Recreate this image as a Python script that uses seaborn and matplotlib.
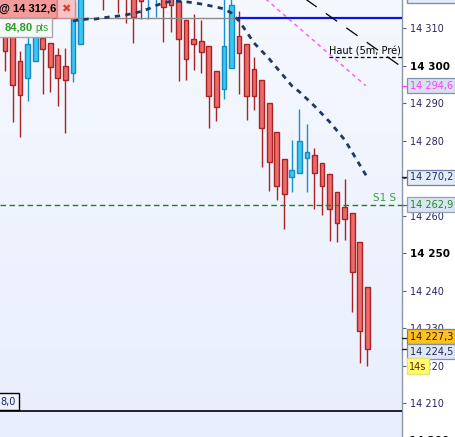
import numpy as np
import matplotlib
matplotlib.use('Agg')
import matplotlib.pyplot as plt
import seaborn as sns
from matplotlib.patches import Rectangle
import matplotlib.transforms as mtransforms

# 1-minute candles, oldest first
opens = [14309.5, 14309.5, 14301.2, 14296.7, 14301.2, 14307.4, 14306.0, 14302.8, 14299.9, 14298.0,
         14305.8, 14322.0, 14321.0, 14322.0, 14320.0, 14323.0, 14321.0, 14319.0, 14320.0, 14319.0,
         14318.5, 14320.0, 14319.0, 14317.2, 14312.2, 14307.1, 14306.6, 14305.2, 14298.6, 14293.8,
         14299.4, 14307.9, 14305.8, 14299.1, 14296.2, 14290.0, 14282.3, 14275.1, 14270.3, 14271.4,
         14275.4, 14276.2, 14274.0, 14271.1, 14266.3, 14262.3, 14260.7, 14253.0, 14241.0]
highs = [14310.8, 14311.0, 14303.9, 14309.5, 14310.8, 14309.5, 14306.0, 14304.7, 14304.7, 14318.8,
         14320.2, 14324.0, 14325.0, 14324.0, 14324.0, 14325.0, 14323.0, 14321.0, 14322.0, 14323.0,
         14323.0, 14322.0, 14321.0, 14318.0, 14312.2, 14313.8, 14312.2, 14305.2, 14298.6, 14320.0,
         14320.0, 14314.6, 14305.8, 14302.3, 14296.2, 14290.0, 14282.3, 14275.1, 14280.2, 14288.4,
         14284.4, 14278.0, 14274.0, 14271.1, 14266.3, 14269.8, 14260.7, 14253.0, 14241.0]
lows = [14298.6, 14285.0, 14281.0, 14290.6, 14301.2, 14292.4, 14293.0, 14289.2, 14282.0, 14295.6,
        14305.8, 14319.0, 14319.0, 14314.8, 14318.5, 14314.0, 14311.4, 14306.0, 14312.4, 14312.4,
        14313.0, 14306.3, 14309.0, 14295.9, 14296.2, 14298.8, 14298.0, 14283.4, 14285.2, 14291.1,
        14299.4, 14292.4, 14285.5, 14288.2, 14273.0, 14266.6, 14264.2, 14256.4, 14266.3, 14271.4,
        14266.3, 14261.8, 14260.2, 14253.2, 14253.0, 14253.5, 14234.3, 14220.7, 14219.9]
closes = [14303.9, 14294.8, 14292.2, 14305.8, 14309.5, 14304.4, 14299.6, 14296.7, 14296.2, 14317.0,
          14318.8, 14320.0, 14323.0, 14319.0, 14322.0, 14319.0, 14318.5, 14313.0, 14317.2, 14322.0,
          14321.0, 14315.6, 14316.2, 14307.1, 14301.8, 14305.8, 14303.6, 14291.9, 14289.0, 14305.2,
          14316.2, 14303.4, 14291.9, 14291.9, 14283.4, 14274.3, 14267.9, 14265.8, 14272.2, 14279.9,
          14277.0, 14271.4, 14267.9, 14261.8, 14258.0, 14259.1, 14245.0, 14229.2, 14224.5]

# moving average (starts at bar 9)
ma_first = 9
ma_vals = [14311.9, 14312.2, 14312.4, 14312.4, 14312.7, 14313.0, 14313.2, 14313.5, 14313.9, 14314.4,
           14315.1, 14316.0, 14316.7, 14317.1, 14317.1, 14317.0, 14316.7, 14316.4, 14316.0, 14315.6,
           14315.1, 14314.0, 14311.9, 14309.0, 14306.0, 14303.9, 14301.8, 14299.4, 14297.0, 14294.6,
           14293.0, 14291.1, 14289.2, 14287.1, 14285.0, 14282.6, 14280.2, 14276.9, 14273.5, 14270.2]

# trend lines (bar index, price)
trend_x = [38, 53]
trend_y = [14320.3, 14299.0]
pink_x = [34, 47.8]
pink_y = [14318.7, 14294.6]

order_level = 14312.6
order_pts = "84,80"
haut_level = 14302.3
s1_level = 14262.9
low_level = 14208.0
ma_last = 14270.2
pink_last = 14294.6
ask_price = 14227.3
last_price = 14224.5
tick_vals = [14210, 14220, 14230, 14240, 14250, 14260, 14270, 14280, 14290, 14300, 14310]

W, H = 455, 437
fig = plt.figure(figsize=(W / 100, H / 100), dpi=100, facecolor='white')
sns.set_style('white')
plt.rcParams['font.family'] = ['DejaVu Sans']
ax = fig.add_axes([0, 0, 402 / W, 1])

x0, x1 = -0.662, 52.6
y0, y1 = 14200.94, 14317.47

# background gradient
top = np.array([245, 248, 254]) / 255
bot = np.array([232, 238, 253]) / 255
t = np.linspace(0, 1, 200)[:, None]
grad = (top * (1 - t) + bot * t)[:, None, :]
ax.imshow(grad, extent=(x0, x1, y0, y1), aspect='auto', zorder=0, interpolation='bilinear')

idx = np.arange(len(opens))
o = np.array(opens); c = np.array(closes)
up = c >= o
red_fill, red_edge = '#ec6a6a', '#a82424'
blue_fill, blue_edge = '#38c8f2', '#1a8ac4'

ax.vlines(idx[~up], np.array(lows)[~up], np.array(highs)[~up], color=red_edge, lw=1.0, zorder=2)
ax.vlines(idx[up], np.array(lows)[up], np.array(highs)[up], color='#1890d0', lw=1.0, zorder=2)
ax.bar(idx[~up], (o - c)[~up], bottom=c[~up], width=0.62, color=red_fill,
       edgecolor=red_edge, linewidth=1.0, zorder=3)
ax.bar(idx[up], (c - o)[up], bottom=o[up], width=0.62, color=blue_fill,
       edgecolor=blue_edge, linewidth=1.0, zorder=3)

# level lines
ax.axhline(order_level, xmin=75 / 402, xmax=238 / 402, color='#8c8c8c', lw=1.0, zorder=4)
ax.axhline(order_level, xmin=238 / 402, xmax=1, color='#0a14e6', lw=1.6, zorder=4)
ax.axhline(haut_level, xmin=329 / 402, xmax=1, color='black', lw=0.9,
           linestyle=(0, (3, 2)), zorder=4)
ax.axhline(s1_level, color='#108a10', lw=1.0, linestyle=(0, (4, 2.5)), zorder=4)
ax.axhline(low_level, color='black', lw=1.2, zorder=4)

sns.lineplot(x=pink_x, y=pink_y, ax=ax, color='#ff5cff', lw=1.1, linestyle=(0, (2.5, 2.5)), zorder=4)
sns.lineplot(x=trend_x, y=trend_y, ax=ax, color='black', lw=0.9, linestyle=(0, (11, 9)), zorder=4)
ma_x = np.arange(ma_first, ma_first + len(ma_vals))
sns.lineplot(x=ma_x, y=ma_vals, ax=ax, color='#1d3a66', lw=2.0, linestyle=(0, (1.9, 1.9)), zorder=5)

ax.set_xlim(x0, x1)
ax.set_ylim(y0, y1)
ax.set_xticks([])
ax.set_xlabel('')
ax.set_ylabel('')
for s in ['left', 'top', 'bottom']:
    ax.spines[s].set_visible(False)
ax.spines['right'].set_color('#8a98ae')
ax.spines['right'].set_linewidth(1.0)

ax.yaxis.tick_right()
ax.set_yticks(tick_vals, [f"{v // 1000} {v % 1000:03d}" for v in tick_vals])
ax.tick_params(axis='y', length=3, width=0.8, color='#5a6478', pad=2.5,
               labelsize=7, labelcolor='#2b2360')
for lab, v in zip(ax.get_yticklabels(), tick_vals):
    if v % 50 == 0:
        lab.set_fontweight('bold')
        lab.set_color('black')
        lab.set_fontsize(7.5)
ytr = ax.get_yaxis_transform()
ax.text(1.0, 14200, '  14 200', transform=ytr, ha='left', va='center', fontsize=7.5,
        fontweight='bold', color='black', clip_on=False)

# text labels inside plot
ax.text(329 / 402, haut_level, 'Haut (5m, Pré)', transform=ytr, ha='left', va='bottom',
        fontsize=7, color='black', zorder=6)
ax.annotate('S1 S', xy=(373 / 402, s1_level), xycoords=ytr, xytext=(0, 2),
            textcoords='offset pixels', ha='left', va='bottom', fontsize=7.5, color='#3c9c3c')


def price_tag(val, txt, fc, ec, tc, tick, dy=0):
    ax.annotate(txt, xy=(1, val), xycoords=ytr, xytext=(7.5, dy), textcoords='offset pixels',
                ha='left', va='center', fontsize=7, color=tc, annotation_clip=False, zorder=7,
                bbox=dict(boxstyle='square,pad=0.25', fc=fc, ec=ec, lw=0.9))
    ax.plot([1, 1.011], [val, val], transform=ytr, color=tick, lw=1.0, clip_on=False, zorder=7)


price_tag(pink_last, '14 294,6', '#d9e0f0', '#8090b0', '#ff3cff', '#ff3cff')
price_tag(ma_last, '14 270,2', '#e4ecf8', '#7080a0', '#1e2c6c', '#202020')
price_tag(s1_level, '14 262,9', '#dae4f4', '#90a0b8', '#1e8c1e', '#5a6478')
price_tag(ask_price, '14 227,3', '#ffc21c', '#9c8030', '#2a1a00', '#202020', dy=1.5)
price_tag(last_price, '14 224,5', '#e0e8f4', '#8090a8', '#1e2860', '#202020', dy=-3)


def px_box(xa, ya, xb, yb, fc, ec, lw=1.0):
    fig.patches.append(Rectangle((xa / W, 1 - yb / H), (xb - xa) / W, (yb - ya) / H,
                                 transform=fig.transFigure, fc=fc, ec=ec, lw=lw, zorder=5))


# order label top-left
px_box(-2, -2, 57, 18, '#f49a9a', '#c85a5a')
fig.text(-1 / W, 1 - 9 / H, '@ 14 312,6', ha='left', va='center', fontsize=8,
         fontweight='bold', family='Liberation Sans', color='black', zorder=6)
px_box(57, -2, 75, 18, '#f6c4c4', '#d08a8a')
fig.text(66 / W, 1 - 9 / H, '\u2716', ha='center', va='center', fontsize=8,
         color='#e03a3a', zorder=6)
px_box(-2, 18, 52, 37, '#f6f7f9', '#a8a8a8')
fig.text(5 / W, 1 - 28 / H, order_pts, ha='left', va='center', fontsize=8,
         fontweight='bold', family='Liberation Sans', color='#2aa02a', zorder=6)
fig.text(35 / W, 1 - 28 / H, 'pts', ha='left', va='center', fontsize=7,
         family='Liberation Sans', color='#2aa02a', zorder=6)

# remaining bits: low level tag, countdown, clipped top tag
px_box(-2, 393, 19, 410, '#eef2fd', 'black')
fig.text(0 / W, 1 - 402 / H, '8,0', ha='left', va='center', fontsize=7, color='#14206a', zorder=6)
px_box(407, 358, 429, 374, '#ffff66', '#e6e080')
fig.text(409 / W, 1 - 366.5 / H, '14s', ha='left', va='center', fontsize=7, color='#6a1a10', zorder=6)
px_box(407, -15, 456, 3, '#e4ecf8', '#8090a8')

fig.savefig('out.png', dpi=100, facecolor='white')
